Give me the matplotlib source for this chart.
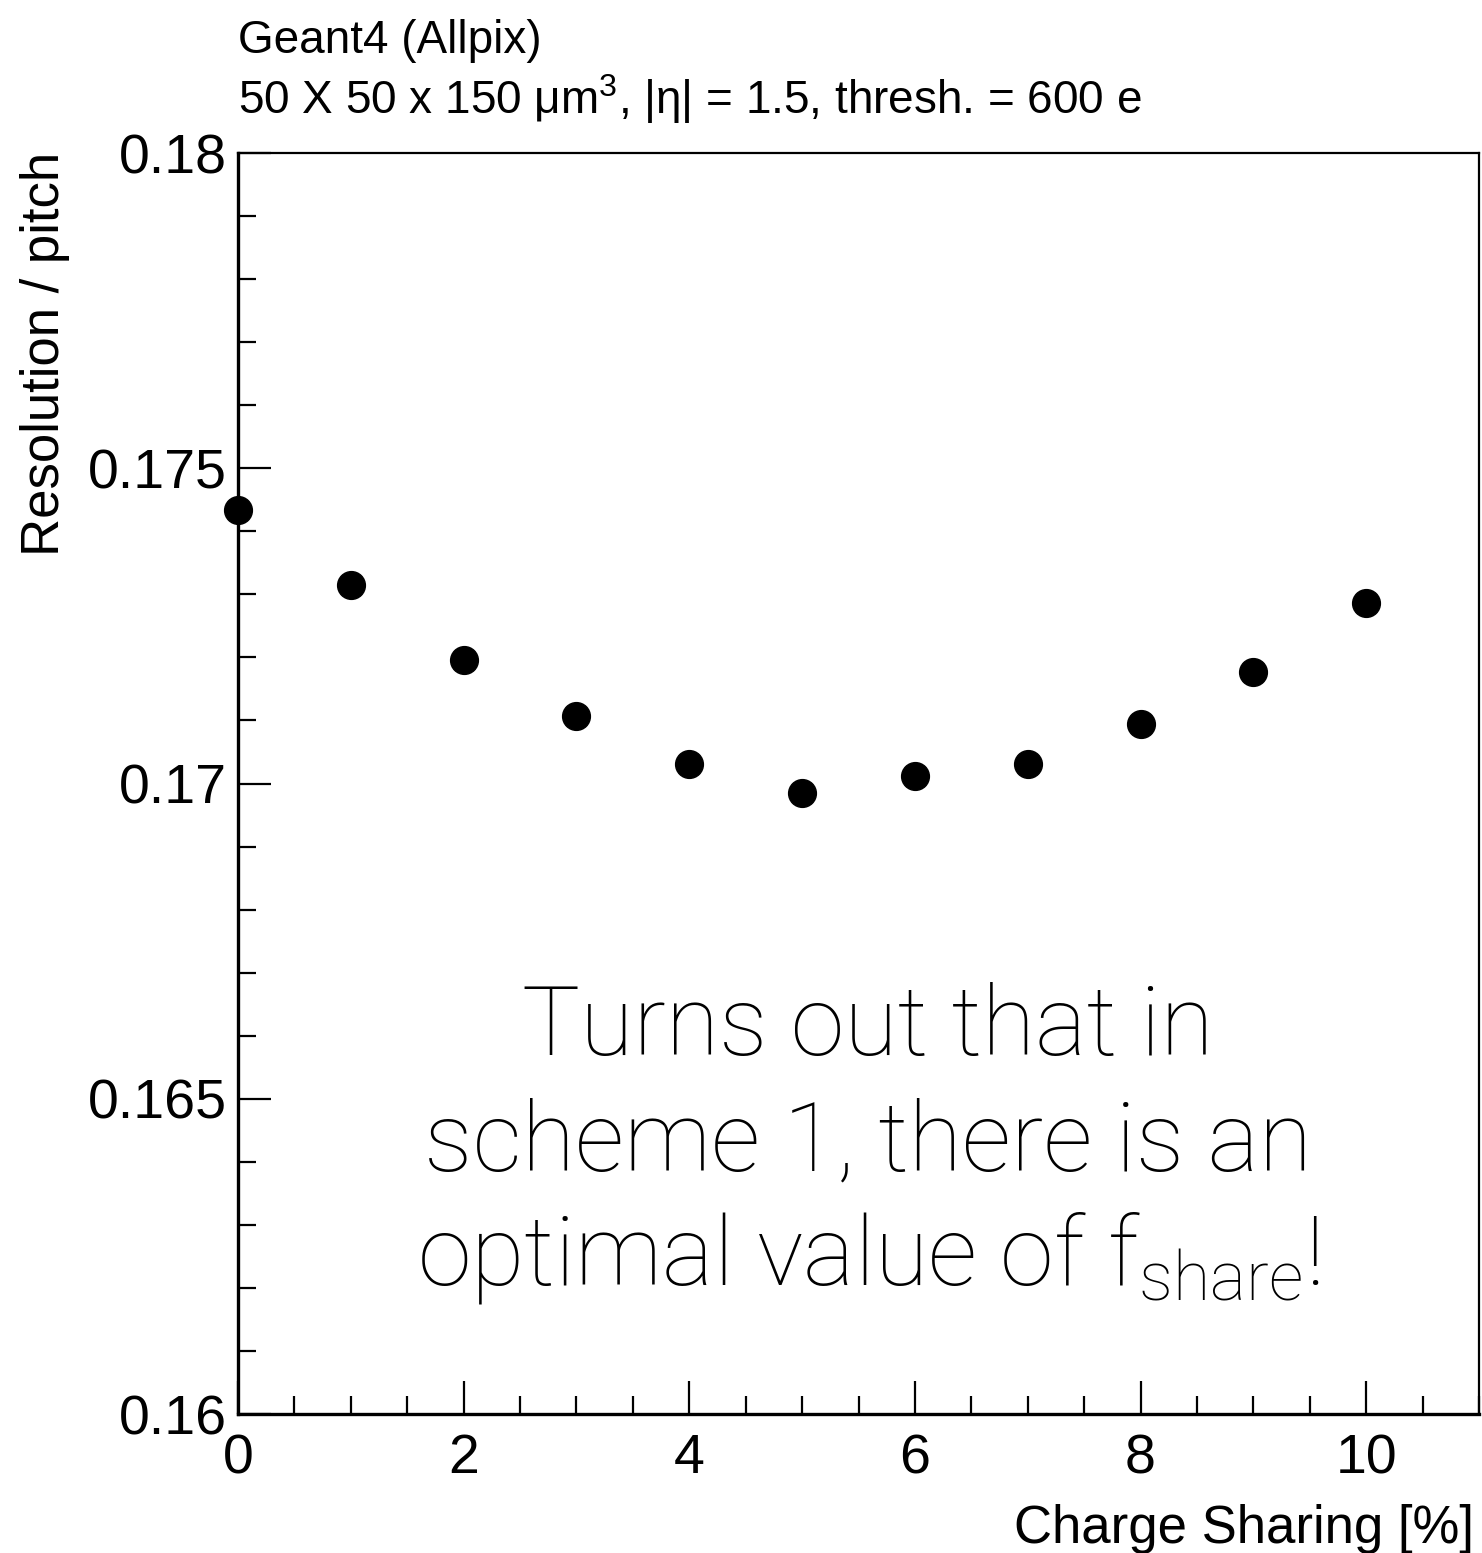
import matplotlib
matplotlib.use("Agg")
import matplotlib.pyplot as plt
from matplotlib.ticker import MultipleLocator, FixedLocator

# charge sharing scan (scheme 1)
charge_sharing = [0, 1, 2, 3, 4, 5, 6, 7, 8, 9, 10]
resolution = [0.17434, 0.17315, 0.17196, 0.17107, 0.17031, 0.16985,
              0.17012, 0.17031, 0.17094, 0.17177, 0.17286]

y_ticks = [0.16, 0.165, 0.17, 0.175, 0.18]
y_tick_labels = ["0.16", "0.165", "0.17", "0.175", "0.18"]

plt.rcParams['font.family'] = ['Liberation Sans', 'DejaVu Sans']
plt.rcParams['mathtext.fontset'] = 'custom'
plt.rcParams['mathtext.rm'] = 'Liberation Sans'

W, H = 1482, 1553
fig = plt.figure(figsize=(W / 100, H / 100), dpi=100)
ax = fig.add_axes([238 / W, 1 - 1414 / H, (1479 - 238) / W, (1414 - 153) / H])

ax.plot(charge_sharing, resolution, 'o', color='black', markersize=20,
        clip_on=False, zorder=5)

ax.set_xlim(0, 11)
ax.set_ylim(0.16, 0.18)
ax.xaxis.set_major_locator(MultipleLocator(2))
ax.xaxis.set_minor_locator(MultipleLocator(0.5))
ax.yaxis.set_major_locator(FixedLocator(y_ticks))
ax.yaxis.set_minor_locator(MultipleLocator(0.001))
ax.set_yticklabels(y_tick_labels)

for s in ax.spines.values():
    s.set_linewidth(1.6)
ax.spines['bottom'].set_linewidth(2.4)
ax.spines['left'].set_linewidth(2.4)

ax.tick_params(which='both', direction='in', top=False, right=False, width=1.6,
               labelsize=40)
ax.tick_params(which='major', length=24)
ax.tick_params(which='minor', length=13)
ax.tick_params(axis='x', pad=14)
ax.tick_params(axis='y', pad=8)

fig.text(45 / W, 1 - 152 / H, "Resolution / pitch", rotation=90,
         ha='center', va='top', fontsize=38)
fig.text(1474 / W, 1 - 1543 / H, "Charge Sharing [%]", ha='right',
         va='baseline', fontsize=38)

fig.text(238 / W, 1 - 53 / H, "Geant4 (Allpix)", ha='left', va='baseline',
         fontsize=33)
fig.text(238 / W, 1 - 114 / H,
         r"50 X 50 x 150 μm$^{\mathregular{3}}$, |η| = 1.5, thresh. = 600 e",
         ha='left', va='baseline', fontsize=33)

note_lines = ["Turns out that in", "scheme 1, there is an",
              r"optimal value of f$_{\mathregular{share}}$!"]
for i, line in enumerate(note_lines):
    fig.text(868 / W, 1 - (1055 + 115 * i) / H, line, ha='center',
             va='baseline', fontsize=70, family='Roboto', weight='light')

fig.savefig("out.png", dpi=100)
